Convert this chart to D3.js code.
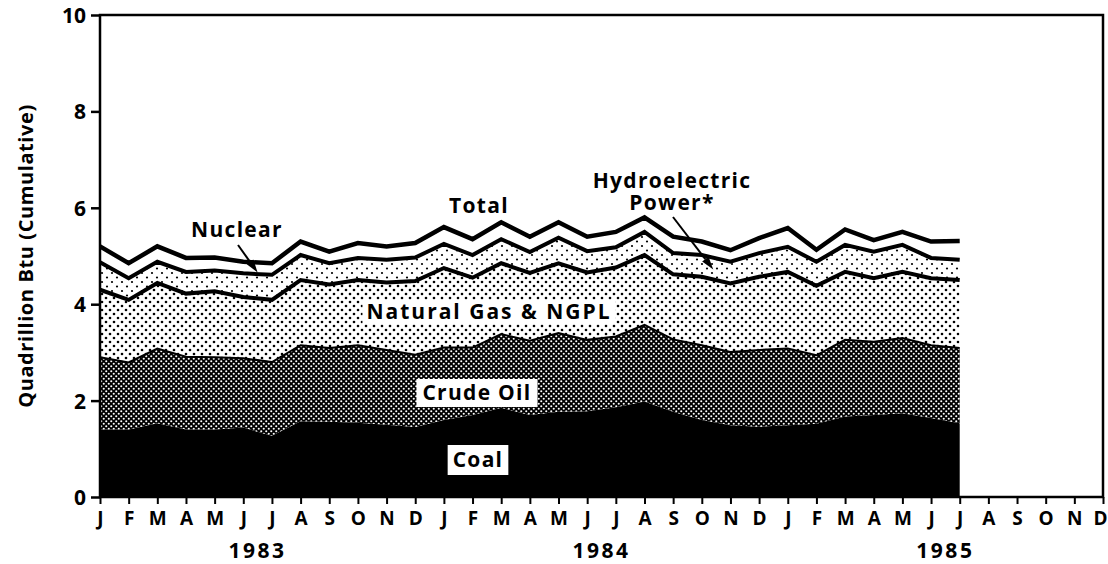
<!DOCTYPE html>
<html>
<head>
<meta charset="utf-8">
<script src="https://cdn.jsdelivr.net/npm/d3@7"></script>
<style>
  body { margin: 0; background: #fff; }
  svg { display: block; }
  text { font-family: "Open Sans", sans-serif; font-weight: 700; fill: #000; }
</style>
</head>
<body>
<div id="chart"></div>
<script>
// === Data (quadrillion Btu per month, Jan 1983 - Jul 1985) ===
const monthLabels = ["J","F","M","A","M","J","J","A","S","O","N","D",
                     "J","F","M","A","M","J","J","A","S","O","N","D",
                     "J","F","M","A","M","J","J","A","S","O","N","D"];
const yearLabels = ["1983", "1984", "1985"];
const yearMidMonth = [5.5, 17.5, 29.5];
const yTicks = [0, 2, 4, 6, 8, 10];

const coal    = [1.40,1.40,1.53,1.40,1.40,1.44,1.27,1.57,1.56,1.54,1.50,1.45,
                 1.60,1.70,1.85,1.70,1.77,1.78,1.86,1.98,1.77,1.60,1.49,1.46,
                 1.49,1.52,1.67,1.70,1.74,1.64,1.53];
const crude   = [1.50,1.39,1.55,1.51,1.50,1.44,1.53,1.58,1.53,1.61,1.55,1.50,
                 1.50,1.40,1.53,1.54,1.63,1.48,1.47,1.59,1.50,1.55,1.52,1.59,
                 1.59,1.42,1.59,1.52,1.56,1.51,1.56];
const natGas  = [1.40,1.30,1.36,1.31,1.37,1.27,1.29,1.35,1.32,1.35,1.40,1.53,
                 1.65,1.45,1.47,1.41,1.45,1.40,1.43,1.45,1.35,1.42,1.42,1.52,
                 1.59,1.44,1.41,1.32,1.37,1.39,1.41];
const hydro   = [0.57,0.45,0.44,0.45,0.43,0.49,0.52,0.52,0.44,0.46,0.47,0.49,
                 0.50,0.47,0.50,0.43,0.53,0.44,0.42,0.48,0.44,0.45,0.45,0.49,
                 0.52,0.50,0.56,0.55,0.56,0.42,0.42];
const nuclear = [0.33,0.31,0.32,0.29,0.27,0.24,0.24,0.28,0.24,0.31,0.28,0.30,
                 0.35,0.33,0.35,0.32,0.32,0.30,0.32,0.30,0.34,0.28,0.24,0.31,
                 0.39,0.25,0.32,0.24,0.27,0.34,0.39];

const keys = ["coal", "crude", "natGas", "hydro", "nuclear"];
const rows = coal.map((_, i) => ({
    i, coal: coal[i], crude: crude[i], natGas: natGas[i], hydro: hydro[i], nuclear: nuclear[i]
}));

// === Layout ===
const W = 1108, H = 564;
const margin = { top: 15, right: 5, bottom: 67, left: 100 };

const svg = d3.select("#chart").append("svg")
    .attr("width", W).attr("height", H);

const x = d3.scaleLinear().domain([0, 35]).range([margin.left, W - margin.right]);
const y = d3.scaleLinear().domain([0, 10]).range([H - margin.bottom, margin.top]);

// === Fill patterns ===
const defs = svg.append("defs");

const pCrude = defs.append("pattern").attr("id", "p-crude")
    .attr("patternUnits", "userSpaceOnUse").attr("width", 5).attr("height", 5);
pCrude.append("rect").attr("width", 5).attr("height", 5).attr("fill", "#000");
pCrude.append("circle").attr("cx", 1.25).attr("cy", 1.25).attr("r", 1.05).attr("fill", "#fff");
pCrude.append("circle").attr("cx", 3.75).attr("cy", 3.75).attr("r", 1.05).attr("fill", "#fff");

const pGas = defs.append("pattern").attr("id", "p-gas")
    .attr("patternUnits", "userSpaceOnUse").attr("width", 8).attr("height", 8);
pGas.append("rect").attr("width", 8).attr("height", 8).attr("fill", "#fff");
pGas.append("circle").attr("cx", 2).attr("cy", 2).attr("r", 1.3).attr("fill", "#000");
pGas.append("circle").attr("cx", 6).attr("cy", 6).attr("r", 1.3).attr("fill", "#000");

const pHydro = defs.append("pattern").attr("id", "p-hydro")
    .attr("patternUnits", "userSpaceOnUse").attr("width", 10).attr("height", 9);
pHydro.append("rect").attr("width", 10).attr("height", 9).attr("fill", "#fff");
pHydro.append("circle").attr("cx", 2).attr("cy", 3).attr("r", 1.1).attr("fill", "#000");
pHydro.append("circle").attr("cx", 7).attr("cy", 7.5).attr("r", 1.1).attr("fill", "#000");

const fills = { coal: "#000", crude: "url(#p-crude)", natGas: "url(#p-gas)", hydro: "url(#p-hydro)", nuclear: "#fff" };

// === Stacked areas ===
const series = d3.stack().keys(keys)(rows);

const area = d3.area()
    .x(d => x(d.data.i))
    .y0(d => y(d[0]))
    .y1(d => y(d[1]));

svg.append("g").selectAll("path")
    .data(series)
    .join("path")
    .attr("d", area)
    .attr("fill", d => fills[d.key]);

// boundary lines (top of crude thin, top of gas / hydro / total thick)
const line = d3.line().x(d => x(d.data.i)).y(d => y(d[1]));
const strokeW = { crude: 2, natGas: 4, hydro: 4, nuclear: 4.5 };
svg.append("g").selectAll("path")
    .data(series.filter(s => strokeW[s.key]))
    .join("path")
    .attr("d", line)
    .attr("fill", "none")
    .attr("stroke", "#000")
    .attr("stroke-width", d => strokeW[d.key])
    .attr("stroke-linejoin", "miter");

// === Frame and axes ===
svg.append("rect")
    .attr("x", x(0)).attr("y", y(10))
    .attr("width", x(35) - x(0)).attr("height", y(0) - y(10))
    .attr("fill", "none").attr("stroke", "#000").attr("stroke-width", 2.5);

const yAxis = svg.append("g")
    .attr("transform", `translate(${x(0)},0)`)
    .call(d3.axisLeft(y).tickValues(yTicks).tickSize(9).tickPadding(5).tickFormat(d3.format("d")));
yAxis.select(".domain").remove();
yAxis.selectAll("line").attr("stroke-width", 2.5);
yAxis.selectAll("text").style("font-size", "21px").attr("dy", "0.36em");

const xAxis = svg.append("g")
    .attr("transform", `translate(0,${y(0)})`)
    .call(d3.axisBottom(x).tickValues(d3.range(36)).tickSize(7).tickPadding(8).tickFormat(i => monthLabels[i]));
xAxis.select(".domain").remove();
xAxis.selectAll("line").attr("stroke-width", 2);
xAxis.selectAll("text").style("font-size", "19px");
xAxis.selectAll(".tick").filter(i => i === 35).select("text").attr("dx", -3);

svg.append("g").selectAll("text")
    .data(yearLabels)
    .join("text")
    .attr("x", (d, k) => x(yearMidMonth[k]))
    .attr("y", y(0) + 61)
    .attr("text-anchor", "middle")
    .style("font-size", "21px")
    .style("letter-spacing", "2.5px")
    .text(d => d);

svg.append("text")
    .attr("transform", `translate(33,${(y(0) + y(10)) / 2}) rotate(-90)`)
    .attr("text-anchor", "middle")
    .style("font-size", "20px")
    .style("letter-spacing", "0.6px")
    .text("Quadrillion Btu (Cumulative)");

// === Annotations ===
const ann = svg.append("g").style("font-size", "21px").style("letter-spacing", "1.3px");

function boxedLabel(txt, cx, cy, padX, padY, spacing) {
    const t = ann.append("text").attr("x", cx).attr("y", cy).attr("dy", "0.35em")
        .attr("text-anchor", "middle").style("letter-spacing", spacing).text(txt);
    const b = t.node().getBBox();
    ann.insert("rect", () => t.node())
        .attr("x", b.x - padX).attr("y", cy - 12 - padY)
        .attr("width", b.width + 2 * padX).attr("height", 24 + 2 * padY)
        .attr("fill", "#fff");
}
boxedLabel("Natural Gas & NGPL", 489, 312, 4, 0, "2px");
boxedLabel("Crude Oil", 477, 393, 6, 2, "1.3px");
boxedLabel("Coal", 478, 460, 5, 3, "1.3px");

ann.append("text").attr("x", 237).attr("y", 237).attr("text-anchor", "middle").text("Nuclear");
ann.append("text").attr("x", 479).attr("y", 213).attr("text-anchor", "middle").text("Total");
ann.append("text").attr("x", 672).attr("y", 188).attr("text-anchor", "middle").text("Hydroelectric");
ann.append("text").attr("x", 672).attr("y", 210).attr("text-anchor", "middle").text("Power*");

function arrow(x1, y1, x2, y2) {
    const ang = Math.atan2(y2 - y1, x2 - x1), len = 13, half = 4;
    const bx = x2 - len * Math.cos(ang), by = y2 - len * Math.sin(ang);
    svg.append("line").attr("x1", x1).attr("y1", y1).attr("x2", bx).attr("y2", by)
        .attr("stroke", "#000").attr("stroke-width", 2);
    svg.append("path")
        .attr("d", `M${x2},${y2}L${bx + half * Math.sin(ang)},${by - half * Math.cos(ang)}L${bx - half * Math.sin(ang)},${by + half * Math.cos(ang)}Z`)
        .attr("fill", "#000");
}
arrow(238, 245, x(5.5), y(4.66));
arrow(673, 217, x(21.4), y(4.72));
</script>
</body>
</html>
